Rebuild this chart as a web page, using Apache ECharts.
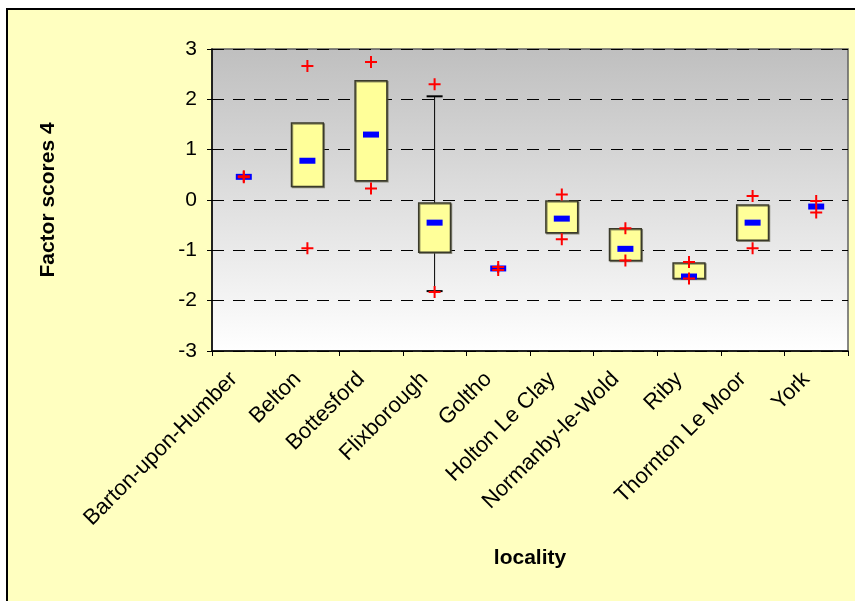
<!DOCTYPE html>
<html>
<head>
<meta charset="utf-8">
<script src="https://cdn.jsdelivr.net/npm/echarts@6/dist/echarts.min.js"></script>
<style>
html,body{margin:0;padding:0;background:#ffffff;}
#frame{position:absolute;left:6px;top:8px;width:860px;height:600px;background:#ffffc0;border-left:2px solid #000;border-top:2px solid #000;}
#chart{position:absolute;left:0;top:0;width:855px;height:601px;}
</style>
</head>
<body>
<div id="frame"></div>
<div id="chart"></div>
<script>
// ---- data ----
var categories = ['Barton-upon-Humber','Belton','Bottesford','Flixborough','Goltho','Holton Le Clay','Normanby-le-Wold','Riby','Thornton Le Moor','York'];
var medians = [0.46, 0.78, 1.30, -0.45, -1.36, -0.37, -0.97, -1.52, -0.45, -0.13];
var q3 = [null, 1.53, 2.37, -0.06, null, -0.02, -0.57, -1.25, -0.10, null];
var q1 = [null, 0.27, 0.38, -1.04, null, -0.65, -1.20, -1.56, -0.80, null];
var whiskerHigh = [null, null, null, 2.06, null, null, null, null, null, null];
var whiskerLow = [null, null, null, -1.81, null, null, null, null, null, null];
var highs = [0.47, 2.66, 2.74, 2.30, -1.33, 0.11, -0.56, -1.23, 0.08, -0.02];
var lows = [0.45, -0.96, 0.23, -1.83, -1.39, -0.78, -1.20, -1.56, -0.96, -0.25];
var yTicks = [-3, -2, -1, 0, 1, 2, 3];

var FONT = '"Liberation Sans", Arial, sans-serif';

var boxData = [];
var whiskerData = [];
var medianData = [];
var plusData = [];
for (var i = 0; i < categories.length; i++) {
  if (q1[i] !== null) boxData.push([i, q1[i], q3[i]]);
  if (whiskerLow[i] !== null) whiskerData.push([i, whiskerLow[i], whiskerHigh[i]]);
  medianData.push([i, medians[i]]);
  plusData.push([i, highs[i]]);
  plusData.push([i, lows[i]]);
}

var chart = echarts.init(document.getElementById('chart'), null, {renderer: 'canvas'});
chart.setOption({
  backgroundColor: 'transparent',
  animation: false,
  grid: {
    left: 212, right: 7, top: 49, bottom: 250,
    show: true,
    outerBoundsMode: 'none',
    containLabel: false,
    borderColor: '#606060',
    borderWidth: 1.5,
    backgroundColor: {
      type: 'linear', x: 0, y: 0, x2: 0, y2: 1,
      colorStops: [{offset: 0, color: '#bfbfbf'}, {offset: 1, color: '#ffffff'}]
    }
  },
  xAxis: {
    type: 'category',
    data: categories,
    boundaryGap: true,
    name: 'locality',
    nameLocation: 'middle',
    nameGap: 197,
    nameTextStyle: {fontFamily: FONT, fontSize: 21, fontWeight: 'bold', color: '#000'},
    axisLine: {show: true, onZero: false, lineStyle: {color: '#000', width: 1.5}},
    axisTick: {show: true, alignWithLabel: false, length: 5, lineStyle: {color: '#000'}},
    axisLabel: {rotate: 45, margin: 15, padding: [0, 14, 0, 0], interval: 0, fontFamily: FONT, fontSize: 22, color: '#000'},
    splitLine: {show: false}
  },
  yAxis: {
    type: 'value',
    min: -3, max: 3, interval: 1,
    name: 'Factor scores 4',
    nameLocation: 'middle',
    nameGap: 153,
    nameRotate: 90,
    nameTextStyle: {fontFamily: FONT, fontSize: 21, fontWeight: 'bold', color: '#000'},
    axisLine: {show: true, lineStyle: {color: '#000', width: 1.5}},
    axisTick: {show: true, length: 5, lineStyle: {color: '#000'}},
    axisLabel: {margin: 15, fontFamily: FONT, fontSize: 21, color: '#000',
      customValues: yTicks},
    splitLine: {show: true, lineStyle: {color: '#000', width: 1, type: [12, 9]}}
  },
  series: [
    {
      type: 'custom',
      name: 'whisker',
      data: whiskerData,
      z: 2,
      renderItem: function (params, api) {
        var x = api.value(0);
        var lo = api.coord([x, api.value(1)]);
        var hi = api.coord([x, api.value(2)]);
        var capW = 16;
        return {
          type: 'group',
          children: [
            {type: 'line', shape: {x1: lo[0], y1: lo[1], x2: hi[0], y2: hi[1]}, style: {stroke: '#000', lineWidth: 1}},
            {type: 'line', shape: {x1: hi[0] - capW / 2, y1: hi[1], x2: hi[0] + capW / 2, y2: hi[1]}, style: {stroke: '#000', lineWidth: 2}},
            {type: 'line', shape: {x1: lo[0] - capW / 2, y1: lo[1], x2: lo[0] + capW / 2, y2: lo[1]}, style: {stroke: '#000', lineWidth: 2}}
          ]
        };
      }
    },
    {
      type: 'custom',
      name: 'box',
      data: boxData,
      z: 3,
      renderItem: function (params, api) {
        var x = api.value(0);
        var bottom = api.coord([x, api.value(1)]);
        var top = api.coord([x, api.value(2)]);
        var w = api.size([1, 0])[0] * 0.5;
        return {
          type: 'rect',
          shape: {x: top[0] - w / 2, y: top[1], width: w, height: bottom[1] - top[1]},
          style: {fill: '#ffff99', stroke: '#3a3a2a', lineWidth: 1.5,
            shadowColor: 'rgba(80,80,60,0.6)', shadowBlur: 0, shadowOffsetX: 1, shadowOffsetY: 1}
        };
      }
    },
    {
      type: 'scatter',
      name: 'median',
      data: medianData,
      z: 4,
      symbol: 'rect',
      symbolSize: [16, 6],
      itemStyle: {color: '#0000ff', opacity: 1}
    },
    {
      type: 'scatter',
      name: 'extremes',
      data: plusData,
      z: 5,
      symbol: 'path://M0,5H5V0H7V5H12V7H7V12H5V7H0Z',
      symbolSize: [12, 12],
      itemStyle: {color: '#ff0000', opacity: 1}
    }
  ]
});
</script>
</body>
</html>
